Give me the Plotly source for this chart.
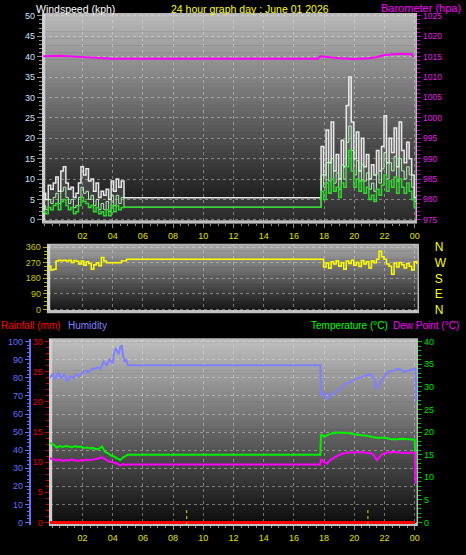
import plotly.graph_objects as go

W, H = 466, 555
FONT = "Liberation Sans"

# ---------------- data ----------------
hour_ticks = [2, 4, 6, 8, 10, 12, 14, 16, 18, 20, 22, 24]
hour_labels = ["02", "04", "06", "08", "10", "12", "14", "16", "18", "20", "22", "00"]

# windspeed (kph), 10-minute samples
wind_early_start = -0.6
gust_early = [6.5, 5.0, 8.5, 7.5, 9.0, 10.5, 7.0, 12.0, 13.0, 9.0, 7.5, 8.0, 5.5, 6.5, 9.0, 13.0, 11.0,
              12.5, 9.5, 10.0, 7.0, 9.0, 5.5, 7.0, 6.0, 7.5, 5.0, 9.5, 7.0, 10.0, 8.0, 9.5]
speed_early = [3.5, 2.5, 5.0, 4.0, 5.5, 6.5, 4.0, 7.0, 8.0, 5.5, 4.0, 5.0, 3.0, 3.5, 5.5, 8.0, 6.5,
               7.0, 5.0, 6.0, 3.5, 5.0, 2.5, 4.0, 2.5, 4.5, 2.0, 6.0, 3.5, 6.0, 4.0, 5.5]
avg_early = [2.0, 1.5, 3.0, 2.5, 3.5, 4.0, 2.5, 4.5, 5.0, 3.5, 2.5, 3.0, 1.5, 2.0, 3.5, 5.5, 4.5,
             4.0, 3.0, 3.5, 2.0, 3.0, 1.5, 2.0, 1.0, 2.5, 1.0, 3.5, 2.0, 3.5, 2.5, 3.0]
wind_gap_start = 4.75
gust_gap, speed_gap, avg_gap = 5.4, 3.1, 3.1
wind_late_start = 17.8
gust_late = [18.0, 11.0, 22.0, 14.0, 24.0, 12.0, 16.0, 10.0, 19.5, 13.0, 28.0, 35.0, 24.0, 15.0, 21.5,
             12.0, 20.0, 13.0, 16.0, 10.0, 13.5, 11.0, 17.0, 12.0, 18.0, 25.5, 14.0, 20.0, 16.5, 22.5,
             13.0, 24.0, 17.0, 14.0, 19.0, 15.0, 11.0, 5.5, 6.0]
speed_late = [11.0, 8.0, 14.0, 9.5, 15.0, 9.0, 11.5, 7.5, 13.5, 10.0, 19.0, 23.0, 17.0, 11.0, 14.5,
              9.5, 13.5, 9.5, 11.5, 7.5, 9.0, 7.0, 11.5, 9.0, 12.5, 16.5, 10.0, 14.0, 12.0, 15.5,
              9.5, 15.0, 12.0, 10.0, 13.0, 11.0, 8.0, 4.5, 4.0]
avg_late = [7.0, 5.0, 9.0, 6.5, 10.0, 7.0, 8.0, 5.5, 9.0, 8.0, 13.0, 17.0, 12.0, 8.0, 10.0,
            7.0, 9.5, 6.5, 8.0, 5.0, 6.0, 4.5, 7.5, 6.0, 8.5, 11.0, 7.0, 9.5, 8.0, 10.5,
            6.5, 10.0, 8.0, 6.5, 9.0, 7.0, 5.0, 3.0, 3.0]

# barometer (hPa)
baro_t = [-0.6, 0.5, 1.5, 2.5, 3.0, 4.0, 5.0, 17.6, 17.75, 18.5, 19.0, 20.0, 21.0, 21.5, 22.0, 23.0, 23.8, 23.9]
baro_v = [1015.1, 1015.2, 1015.0, 1014.8, 1014.6, 1014.5, 1014.5, 1014.5, 1015.1, 1014.8, 1014.6,
          1014.4, 1014.6, 1014.9, 1015.4, 1015.7, 1015.6, 1014.9]

# wind direction (degrees), 10-minute samples
dir_early_start = -0.25
dir_early = [250, 228, 232, 280, 284, 282, 285, 280, 284, 272, 283, 278, 262, 280, 255, 275, 266,
             232, 258, 270, 252, 300, 280, 270, 270, 270, 270, 270, 270, 282, 282, 290]
dir_gap_start = 5.0
dir_gap = 290
dir_late_start = 17.8
dir_late = [290, 245, 268, 238, 275, 262, 282, 250, 270, 232, 280, 265, 285, 255, 272, 248, 283,
            262, 275, 240, 282, 270, 290, 336, 305, 290, 262, 250, 203, 268, 245, 272, 258, 240,
            266, 250, 228, 275, 262]
dir_ticks = [0, 90, 180, 270, 360]
dir_labels = ["N", "E", "S", "W", "N"]

# humidity (%)
hum_t = [-0.17, 0.0, 0.2, 0.4, 0.6, 0.8, 1.0, 1.2, 1.4, 1.6, 1.8, 2.0, 2.2, 2.4, 2.6, 2.8, 3.0, 3.2,
         3.4, 3.6, 3.8, 4.0, 4.1, 4.2, 4.3, 4.4, 4.5, 4.6, 4.7, 4.8, 4.9, 5.0, 17.75, 17.8, 18.0,
         18.2, 18.4, 18.6, 18.9, 19.2, 19.5, 19.8, 20.1, 20.5, 20.8, 21.1, 21.3, 21.5, 21.7, 21.9,
         22.1, 22.3, 22.6, 22.9, 23.1, 23.3, 23.5, 23.7, 23.9, 24.05, 24.1]
hum_v = [80, 82, 79, 83, 80, 82, 78, 81, 80, 82, 81, 83, 84, 83, 85, 85, 86, 85, 89, 87, 90, 88, 94,
         96, 95, 93, 97, 98, 92, 89, 90, 87, 87, 70, 72, 68, 71, 71, 73, 75, 77, 78, 79.5, 80.5,
         81.5, 82, 80, 74, 77, 80, 82, 83.5, 84, 85, 84.5, 83, 84, 84.5, 85, 85, 67]

# temperature (°C)
temp_t = [-0.17, 0.1, 0.3, 0.5, 0.7, 0.9, 1.1, 1.3, 1.5, 1.7, 1.9, 2.1, 2.3, 2.5, 2.7, 2.9, 3.1, 3.3,
          3.5, 3.7, 3.9, 4.1, 4.3, 4.5, 4.7, 4.9, 5.0, 17.75, 17.8, 18.0, 18.2, 18.5, 18.8, 19.2,
          19.6, 20.0, 20.4, 20.8, 21.2, 21.6, 22.0, 22.4, 22.8, 23.2, 23.6, 23.9, 24.0, 24.05]
temp_v = [17.6, 17.2, 16.6, 16.9, 16.7, 16.9, 16.8, 16.6, 16.9, 16.7, 16.8, 16.5, 16.6, 16.4, 16.5,
          16.2, 16.3, 16.8, 15.6, 15.3, 14.8, 14.6, 14.2, 13.8, 14.4, 14.9, 15.0, 15.0, 19.5, 19.0,
          19.3, 19.7, 19.9, 19.9, 19.8, 19.5, 19.4, 19.2, 18.9, 18.7, 18.8, 18.4, 18.4, 18.5, 18.4,
          18.3, 18.3, 13.0]

# dew point (°C)
dew_t = [-0.17, 0.1, 0.3, 0.5, 0.7, 0.9, 1.1, 1.3, 1.5, 1.7, 1.9, 2.1, 2.3, 2.5, 2.7, 2.9, 3.1, 3.3,
         3.5, 3.7, 3.9, 4.1, 4.3, 4.5, 4.7, 4.9, 5.0, 17.75, 17.8, 18.0, 18.2, 18.4, 18.7, 18.9,
         19.2, 19.6, 20.0, 20.4, 20.8, 21.1, 21.3, 21.5, 21.7, 21.9, 22.2, 22.6, 23.0, 23.4, 23.7,
         23.9, 24.0, 24.05]
dew_v = [14.2, 13.9, 13.7, 13.9, 13.6, 13.8, 13.7, 13.9, 13.8, 13.6, 13.8, 13.7, 13.9, 13.8, 13.9,
         14.0, 14.2, 14.4, 13.9, 13.6, 13.4, 13.2, 13.0, 12.6, 12.9, 12.7, 12.8, 12.8, 14.0, 13.4,
         13.0, 13.8, 14.4, 14.8, 15.2, 15.5, 15.5, 15.6, 15.4, 15.3, 14.8, 13.8, 14.6, 15.2, 15.5,
         15.6, 15.5, 15.3, 15.4, 15.5, 15.4, 8.6]

# rainfall (mm)
rain_t = [-0.17, 24.0]
rain_v = [0, 0]
rain_marker_hours = [8.9, 20.9]


# ---------------- helpers ----------------
def series(start, early, gap_t, gap_v, late_start, late):
    t = [round(start + i / 6, 4) for i in range(len(early))]
    v = list(early)
    t.append(gap_t)
    v.append(gap_v)
    t += [round(late_start + i / 6, 4) for i in range(len(late))]
    v += list(late)
    return t, v


def px(x):
    return x / W


def py(y):
    return 1 - y / H


# panel pixel boxes (left, right, top, bottom)
P1 = (43, 419, 10, 222)
P2 = (48, 421, 244, 313)
P3 = (50, 420, 340, 529)


def xr(box):
    # 0h at 52.6 px, 15.2 px per hour
    return [(box[0] - 52.6) / 15.2, (box[1] - 52.6) / 15.2]


def yr(box, v0, v1, p0, p1):
    s = (p0 - p1) / (v1 - v0)
    return [v0 - (box[3] - p0) / s, v1 + (p1 - box[2]) / s]


fig = go.Figure()

gt, gv = series(wind_early_start, gust_early, wind_gap_start, gust_gap, wind_late_start, gust_late)
st, sv = series(wind_early_start, speed_early, wind_gap_start, speed_gap, wind_late_start, speed_late)
at, av = series(wind_early_start, avg_early, wind_gap_start, avg_gap, wind_late_start, avg_late)
dt, dv = series(dir_early_start, dir_early, dir_gap_start, dir_gap, dir_late_start, dir_late)

fig.add_trace(go.Scatter(x=gt, y=gv, mode="lines", line=dict(color="#E8E8E8", width=1.5, shape="hv"),
                         fill="tozeroy", fillcolor="rgba(255,255,255,0.13)", xaxis="x", yaxis="y"))
fig.add_trace(go.Scatter(x=st, y=sv, mode="lines", line=dict(color="#B8F0B8", width=1, shape="hv"),
                         xaxis="x", yaxis="y"))
fig.add_trace(go.Scatter(x=at, y=av, mode="lines", line=dict(color="#30D830", width=1.5, shape="hv"),
                         xaxis="x", yaxis="y"))
fig.add_trace(go.Scatter(x=baro_t, y=baro_v, mode="lines", line=dict(color="#FF00FF", width=2),
                         xaxis="x", yaxis="y2"))
fig.add_trace(go.Scatter(x=dt, y=dv, mode="lines", line=dict(color="#FFFF00", width=1.5, shape="hv"),
                         xaxis="x2", yaxis="y3"))
# same series on the compass-letter axis (invisible) so that axis is drawn
fig.add_trace(go.Scatter(x=dt, y=dv, mode="lines", line=dict(color="rgba(0,0,0,0)", width=0),
                         hoverinfo="skip", xaxis="x2", yaxis="y4"))
fig.add_trace(go.Scatter(x=hum_t, y=hum_v, mode="lines", line=dict(color="#8080FF", width=2),
                         xaxis="x3", yaxis="y6"))
fig.add_trace(go.Scatter(x=temp_t, y=temp_v, mode="lines", line=dict(color="#00F000", width=2),
                         xaxis="x3", yaxis="y7"))
fig.add_trace(go.Scatter(x=dew_t, y=dew_v, mode="lines", line=dict(color="#FF00FF", width=2),
                         xaxis="x3", yaxis="y7"))
fig.add_trace(go.Scatter(x=rain_t, y=rain_v, mode="lines", line=dict(color="#FF0000", width=3),
                         xaxis="x3", yaxis="y5"))

# ---------------- decoration ----------------
shapes = []


def gradient(box, top, bottom, n=60):
    l, r, t, b = box
    for i in range(n):
        f = (i + 0.5) / n
        c = int(round(top + (bottom - top) * f))
        ya = t + (b - t) * i / n
        yb = t + (b - t) * (i + 1) / n + 0.6
        shapes.append(dict(type="rect", xref="paper", yref="paper", x0=px(l), x1=px(r),
                           y0=py(min(yb, b)), y1=py(ya), fillcolor=f"rgb({c},{c},{c})",
                           line=dict(width=0), layer="below"))


def frame(box):
    l, r, t, b = box
    shapes.append(dict(type="rect", xref="paper", yref="paper", x0=px(l), x1=px(r), y0=py(b), y1=py(t),
                       line=dict(color="#B8B8B8", width=1.5), layer="below"))
    shapes.append(dict(type="line", xref="paper", yref="paper", x0=px(l + 1), x1=px(l + 1), y0=py(b), y1=py(t),
                       line=dict(color="#D0D0D0", width=3), layer="below"))
    shapes.append(dict(type="line", xref="paper", yref="paper", x0=px(l), x1=px(r), y0=py(b - 1), y1=py(b - 1),
                       line=dict(color="#C0C0C0", width=3), layer="below"))


gradient(P1, 185, 10)
gradient(P2, 168, 16)
gradient(P3, 192, 10)
frame(P1)
frame(P2)
frame(P3)

for h in rain_marker_hours:
    shapes.append(dict(type="line", xref="x3", yref="y5", x0=h, x1=h, y0=-0.45, y1=2.5,
                       line=dict(color="#E0E000", width=1, dash="dot"), layer="above"))

GRID = "rgba(225,225,225,0.45)"
TICKF = dict(family=FONT, size=9)


def xaxis(box, anchor, labels=True, tickcolor="#909090"):
    return dict(domain=[px(box[0]), px(box[1])], range=xr(box), anchor=anchor,
                tickmode="array", tickvals=hour_ticks, ticktext=hour_labels,
                showticklabels=labels, tickfont=dict(TICKF, color="#E0E000"),
                ticks="outside" if labels else "", ticklen=4, tickcolor=tickcolor,
                minor=dict(dtick=0.5, tick0=0, ticklen=2, tickcolor=tickcolor, ticks="outside" if labels else "",
                           showgrid=False),
                showgrid=True, gridcolor=GRID, griddash="dot", gridwidth=1,
                zeroline=False, showline=False, fixedrange=True)


r1 = yr(P1, 0, 50, 219, 12)
r1b = yr(P1, 975, 1025, 219, 12)
r2 = yr(P2, 0, 360, 310, 246.7)
r3 = yr(P3, 0, 30, 526, 342.7)
r3h = yr(P3, 0, 100, 526, 342.7)
r3t = yr(P3, 0, 40, 526, 342.7)
dom2 = [py(P2[3]), py(P2[2])]

fig.update_layout(
    width=W, height=H, margin=dict(l=0, r=0, t=0, b=0),
    paper_bgcolor="black", plot_bgcolor="rgba(0,0,0,0)", showlegend=False,
    font=dict(family=FONT, size=9, color="white"),
    xaxis=xaxis(P1, "y"),
    xaxis2=xaxis(P2, "y3", labels=False),
    xaxis3=xaxis(P3, "y5"),
    yaxis=dict(domain=[py(P1[3]), py(P1[2])], range=r1, anchor="x", tickmode="linear", tick0=0, dtick=5,
               tickfont=dict(TICKF, color="#C8E0FF"), ticks="outside", ticklen=5, tickcolor="#909090",
               minor=dict(dtick=1, ticklen=3, tickcolor="#909090", ticks="outside", showgrid=False),
               showgrid=True, gridcolor=GRID, griddash="dot", zeroline=False, showline=False),
    yaxis2=dict(overlaying="y", side="right", anchor="x", range=r1b, tickmode="linear", tick0=975, dtick=5,
                tickfont=dict(family=FONT, size=8.5, color="#E020E0"), ticks="outside", ticklen=4,
                tickcolor="#C000C0",
                minor=dict(dtick=1, ticklen=3, tickcolor="#C000C0", ticks="outside", showgrid=False),
                showgrid=False, zeroline=False, showline=False),
    yaxis3=dict(domain=dom2, range=r2, anchor="x2", tickmode="array",
                tickvals=dir_ticks, tickfont=dict(TICKF, color="#C8C800"),
                ticks="outside", ticklen=4, tickcolor="#B0B000",
                minor=dict(dtick=22.5, tick0=0, ticklen=3, tickcolor="#B0B000", ticks="outside", showgrid=False),
                showgrid=True, gridcolor=GRID, griddash="dot", zeroline=False, showline=False),
    yaxis4=dict(overlaying="y3", side="right", anchor="x2", domain=dom2, range=r2, tickmode="array",
                tickvals=dir_ticks, ticktext=dir_labels,
                tickfont=dict(family=FONT, size=12, color="#FFFF00"), ticks="outside", ticklen=13,
                tickcolor="rgba(0,0,0,0)", showgrid=False, zeroline=False, showline=False),
    yaxis5=dict(domain=[py(P3[3]), py(P3[2])], range=r3, anchor="x3", tickmode="linear", tick0=0, dtick=5,
                tickfont=dict(TICKF, color="#E00000"), ticks="outside", ticklen=4, tickcolor="#D00000",
                minor=dict(dtick=1, ticklen=3, tickcolor="#D00000", ticks="outside", showgrid=False),
                showgrid=False, zeroline=False, showline=False),
    yaxis6=dict(overlaying="y5", side="left", anchor="free", position=px(30), range=r3h,
                tickmode="linear", tick0=0, dtick=10, tickfont=dict(TICKF, color="#6070FF"),
                ticks="outside", ticklen=4, tickcolor="#6070FF",
                minor=dict(dtick=2, ticklen=2, tickcolor="#6070FF", ticks="outside", showgrid=False),
                showline=True, linecolor="#6070FF", linewidth=2,
                showgrid=True, gridcolor=GRID, griddash="dot", zeroline=False),
    yaxis7=dict(overlaying="y5", side="right", anchor="x3", range=r3t, tickmode="linear", tick0=0, dtick=5,
                tickfont=dict(TICKF, color="#00E000"), ticks="outside", ticklen=4, tickcolor="#00C000",
                minor=dict(dtick=1, ticklen=3, tickcolor="#00C000", ticks="outside", showgrid=False),
                showgrid=False, zeroline=False, showline=False),
    shapes=shapes,
)

ann = []


def label(text, x, y, color, anchor="left", size=10.5):
    ann.append(dict(text=text, x=px(x), y=py(y), xref="paper", yref="paper", showarrow=False,
                    xanchor=anchor, yanchor="middle", font=dict(family=FONT, size=size, color=color),
                    borderpad=0))


label("Windspeed (kph)", 35, 5, "#FFFFFF")
label("24 hour graph day : June 01 2026", 252, 5, "#FFFF00", anchor="center")
label("Barometer (hpa)", 465, 4.5, "#FF00FF", anchor="right", size=11)
label("Rainfall (mm)", 0, 326, "#FF0000", size=10)
label("Humidity", 67, 326, "#8080FF", size=10)
label("Temperature (°C)", 312, 326, "#00FF00", size=10)
label("Dew Point (°C)", 395, 326, "#FF00FF", size=10)
fig.update_layout(annotations=ann)

fig.write_html("out.html", post_script="document.body.style.margin='0px';",
               config={"displayModeBar": False})
